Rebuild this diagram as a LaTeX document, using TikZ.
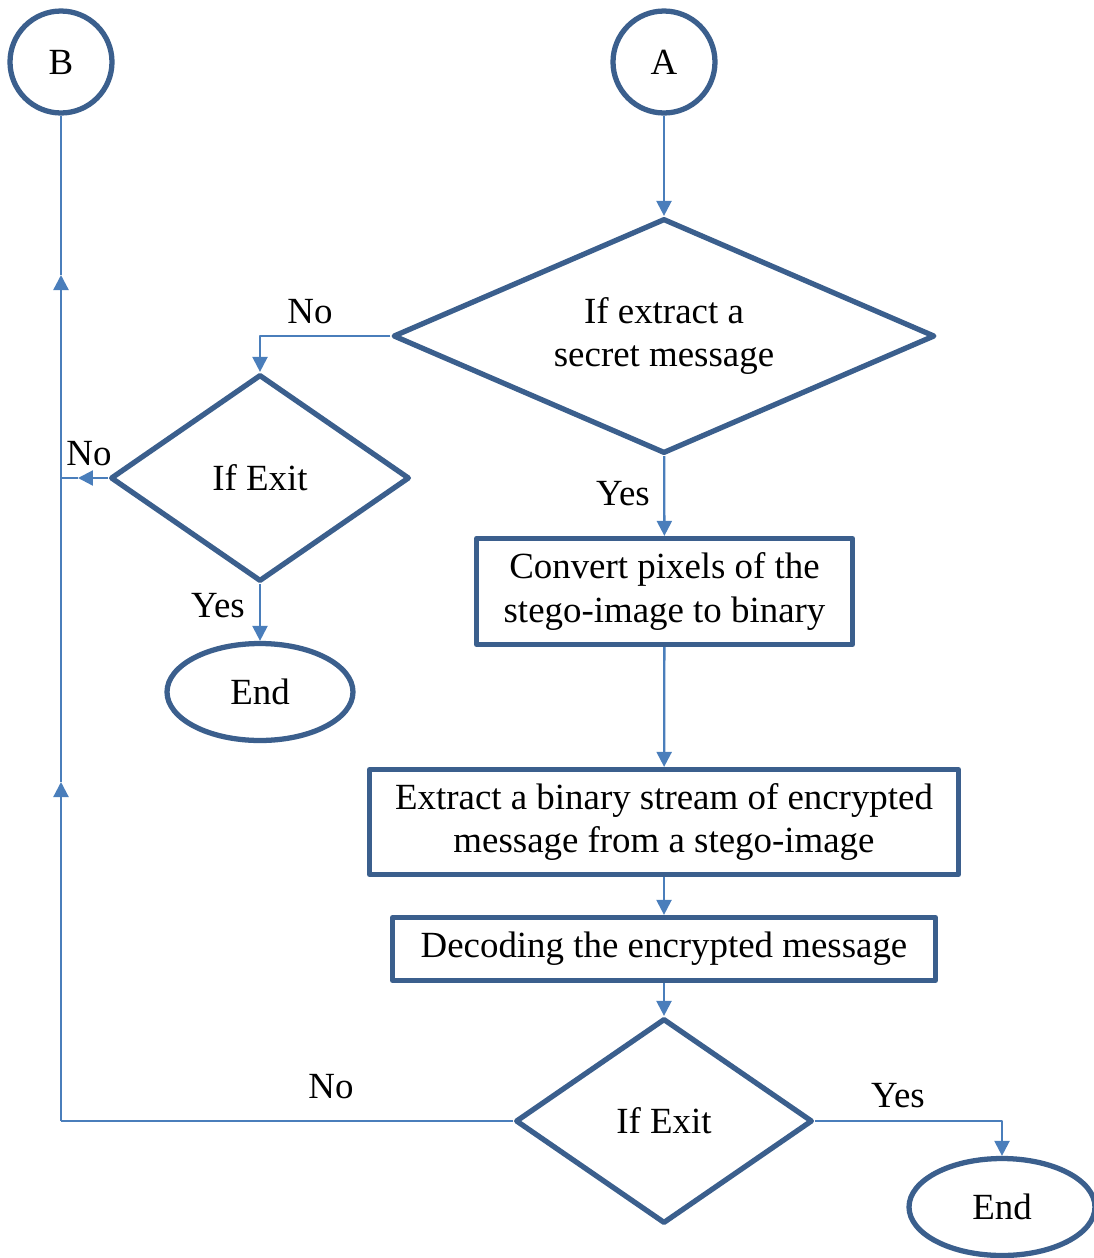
\documentclass[tikz,border=0pt]{standalone}
\usepackage{fontspec}
\setmainfont{Liberation Serif}
\usetikzlibrary{shapes.geometric,arrows.meta}
\definecolor{bordblue}{HTML}{3B5F8D}
\definecolor{linkblue}{HTML}{4A7EBB}
\tikzset{
 link/.style={linkblue, line width=1.3pt},
 linkarrow/.style={-{Triangle[length=0.3cm,width=0.3cm]}},
 termcircle/.style={circle, draw=bordblue, line width=3pt, minimum size=2.04cm, inner sep=0pt},
 endnode/.style={ellipse, draw=bordblue, line width=3pt, minimum width=3.72cm, minimum height=1.94cm},
 procbox/.style={rectangle, draw=bordblue, line width=3pt, align=center, inner sep=0pt},
 decide/.style={diamond, draw=bordblue, line width=3pt, align=center, inner sep=0pt},
}
\begin{document}
\begin{tikzpicture}[x=0.02cm, y=-0.02cm, font=\fontsize{21}{24.8}\selectfont, line join=round]
 \useasboundingbox (0,0) rectangle (1094,1258);
 % connectors A and B
 \node[termcircle] (B) at (61,62) {B};
 \node[termcircle] (A) at (664,62) {A};
 % decisions
 \node[decide, minimum width=10.84cm, minimum height=4.7cm, shape aspect=2.3] (ifmsg) at (664,336) {If extract a\\secret message};
 \node[decide, minimum width=5.98cm, minimum height=4.14cm, shape aspect=1.44] (exit1) at (260,478) {If Exit};
 \node[decide, minimum width=5.94cm, minimum height=4.1cm, shape aspect=1.44] (exit2) at (664,1121) {If Exit};
 % process boxes
 \node[procbox, minimum width=7.52cm, minimum height=2.12cm] (conv) at (664.5,591.5) {Convert pixels of the\\stego-image to binary};
 \node[procbox, minimum width=11.78cm, minimum height=2.1cm] (extr) at (664,822) {Extract a binary stream of encrypted\\message from a stego-image};
 \node[procbox, minimum width=10.86cm, minimum height=1.26cm] (dec) at (664,949) {Decoding the encrypted message};
 % terminals
 \node[endnode] (end1) at (260,692) {End};
 \node[endnode] (end2) at (1002,1207) {End};
 % main flow
 \draw[link, linkarrow] (A) -- (ifmsg);
 \draw[link, linkarrow] (ifmsg) -- (conv);
 \draw[link, linkarrow] (conv) -- (extr);
 \draw[link, linkarrow] (extr) -- (dec);
 \draw[link, linkarrow] (dec) -- (exit2);
 \draw[link, linkarrow] (ifmsg.west) -| (exit1.north);
 \draw[link, linkarrow] (exit1) -- (end1);
 \draw[link, linkarrow] (exit2.east) -| (end2.north);
 % return line to B
 \coordinate (jlow) at (61,1121);
 \coordinate (jmid) at (61,478);
 \coordinate (up1) at (61,782);
 \coordinate (up2) at (61,275);
 \coordinate (left1) at (78,478);
 \draw[link] (exit2.west) -- (jlow);
 \draw[link, linkarrow] (jlow) -- (up1);
 \draw[link, linkarrow] (up1) -- (up2);
 \draw[link] (up2) -- (B);
 \draw[link, linkarrow] (exit1.west) -- (left1);
 \draw[link] (left1) -- (jmid);
 % labels
 \node (no1) at (310,312) {No};
 \node (no2) at (89,454) {No};
 \node (no3) at (331,1087) {No};
 \node (yes1) at (623,494) {Yes};
 \node (yes2) at (218,606) {Yes};
 \node (yes3) at (898,1096) {Yes};
\end{tikzpicture}
\end{document}
